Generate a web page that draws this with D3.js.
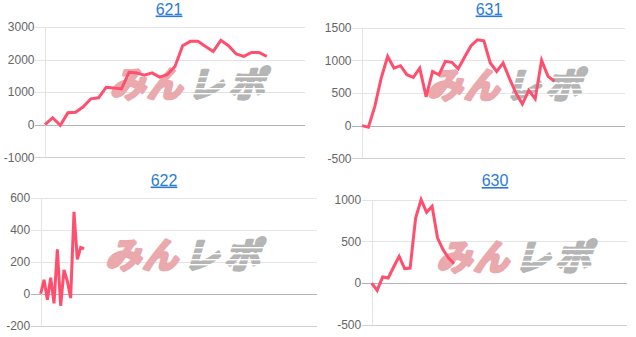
<!DOCTYPE html>
<html>
<head>
<meta charset="utf-8">
<script src="https://cdn.jsdelivr.net/npm/d3@7"></script>
<style>
	body { margin: 0; background: #fff; }
	svg { display: block; font-family: "Liberation Sans", Arial, sans-serif; }
	.tick-label { fill: #666; font-size: 12px; }
	.title { fill: #2b7bd6; font-size: 16px; text-decoration: underline; }
	.wm { font-family: "Noto Sans CJK JP", sans-serif; font-weight: bold; font-size: 35px; stroke-width: 3.2px; stroke-linejoin: round; }
</style>
</head>
<body>
<script>
// chart values
var titles = ["621", "631", "622", "630"];
var yTicks621 = [-1000, 0, 1000, 2000, 3000];
var yTicks631 = [-500, 0, 500, 1000, 1500];
var yTicks622 = [-200, 0, 200, 400, 600];
var yTicks630 = [-500, 0, 500, 1000];
var values621 = [0, 214, -20, 367, 385, 550, 795, 826, 1150, 1130, 1100, 1610, 1590, 1520, 1590,
	1460, 1540, 1790, 2425, 2560, 2560, 2400, 2250, 2590, 2425, 2170, 2100, 2220, 2220, 2100];
var values631 = [0, -25, 296, 730, 1060, 880, 918, 780, 740, 880, 440, 830, 780, 985, 970, 870,
	1050, 1225, 1315, 1300, 960, 830, 960, 720, 500, 330, 540, 410, 1000, 755, 680];
var values622 = [0, 88, -38, 100, -60, 278, -75, 150, 80, -27, 513, 215, 290, 282];
var values630 = [0, -88, 72, 60, 192, 320, 172, 180, 780, 1000, 848, 920, 540, 400, 300, 232];
// number of x slots each plot spans
var spans = [34, 41, 83, 46.5];

var panels = [
	{title: titles[0], tx: 169, ty: 14.5, left: 45, right: 305, top: 27, bottom: 157.3, ticks: yTicks621, values: values621, span: spans[0]},
	{title: titles[1], tx: 489, ty: 14.5, left: 362, right: 625, top: 27.7, bottom: 158.3, ticks: yTicks631, values: values631, span: spans[1]},
	{title: titles[2], tx: 164, ty: 185.5, left: 40.7, right: 317, top: 198, bottom: 325.7, ticks: yTicks622, values: values622, span: spans[2]},
	{title: titles[3], tx: 495, ty: 186, left: 371.7, right: 627, top: 199.7, bottom: 324.7, ticks: yTicks630, values: values630, span: spans[3]}
];

var svg = d3.select("body").append("svg")
	.attr("width", 636)
	.attr("height", 337);

panels.forEach(function(p) {
	var g = svg.append("g"),
		y = d3.scaleLinear()
			.domain([p.ticks[0], p.ticks[p.ticks.length - 1]])
			.range([p.bottom, p.top]),
		x = d3.scaleLinear()
			.domain([0, p.span])
			.range([p.left, p.right]);

	g.append("text")
		.classed("title", true)
		.attr("x", p.tx)
		.attr("y", p.ty)
		.attr("text-anchor", "middle")
		.text(p.title);

	// gridlines and tick labels
	g.selectAll("line.grid").data(p.ticks).enter()
		.append("line")
		.classed("grid", true)
		.attr("x1", p.left - 10)
		.attr("x2", p.right)
		.attr("y1", function(d) {return Math.round(y(d)) + 0.5;})
		.attr("y2", function(d) {return Math.round(y(d)) + 0.5;})
		.style("stroke", function(d, i) {return d === 0 ? "#b4b4b4" : (i === 0 ? "#d0d0d0" : "#e4e4e4");});
	g.selectAll("text.tick-label").data(p.ticks).enter()
		.append("text")
		.classed("tick-label", true)
		.attr("x", p.left - 10.5)
		.attr("y", function(d) {return y(d);})
		.attr("dy", "0.35em")
		.attr("text-anchor", "end")
		.text(function(d) {return d;});
	g.append("line")
		.attr("x1", Math.round(p.left) + 0.5)
		.attr("x2", Math.round(p.left) + 0.5)
		.attr("y1", p.top)
		.attr("y2", p.bottom)
		.style("stroke", "#e4e4e4");

	// watermark logo
	var wm = g.append("g")
		.attr("transform", "translate(" + (p.left + 63) + "," + (p.top + 41) + ")");
	wm.append("text")
		.classed("wm", true)
		.attr("x", 2)
		.attr("y", 29)
		.attr("textLength", 72)
		.attr("transform", "skewX(-16) translate(8,0)")
		.style("fill", "#eaa9ad")
		.style("stroke", "#eaa9ad")
		.text("みん");
	wm.append("text")
		.classed("wm", true)
		.attr("x", 80)
		.attr("y", 29)
		.attr("textLength", 76)
		.attr("transform", "skewX(-16) translate(8,0)")
		.style("fill", "#b5b5b5")
		.style("stroke", "#b5b5b5")
		.text("レポ");
	[8, 14, 20, 25].forEach(function(sy) {
		wm.append("rect")
			.attr("x", 80)
			.attr("y", sy)
			.attr("width", 82)
			.attr("height", 1.4)
			.style("fill", "#fff");
	});

	g.append("path")
		.datum(p.values)
		.attr("d", d3.line()
			.x(function(d, i) {return x(i);})
			.y(function(d) {return y(d);}))
		.style("fill", "none")
		.style("stroke", "#ff4f6e")
		.style("stroke-width", 3)
		.style("stroke-linejoin", "miter");
});
</script>
</body>
</html>
